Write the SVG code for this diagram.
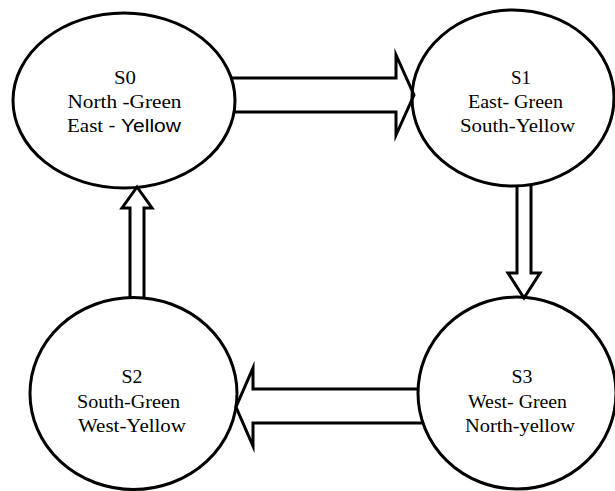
<svg xmlns="http://www.w3.org/2000/svg" width="615" height="491" viewBox="0 0 615 491">
<style>
.st{fill:none;stroke:#000;stroke-width:3}
.ar{fill:none;stroke:#000;stroke-width:3;stroke-linejoin:miter;stroke-miterlimit:10}
text{font-family:"Liberation Serif","Times New Roman",serif;font-size:18px;fill:#000;text-anchor:middle}
.sans{font-family:"Liberation Sans",Arial,sans-serif}
</style>
<rect width="615" height="491" fill="#fff"/>
<g id="connectors">
<path class="ar" d="M231,78 H396 V55 L414,95 L396,135 V112 H234"/>
<path class="ar" d="M517,186 V273 H508 L524,298 L540,273 H531 V186"/>
<path class="ar" d="M419,389 H253 V368 L236,407 L253,446 V423 H423"/>
<path class="ar" d="M130,297 V208 H122 L137,187 L152,208 H144 V297"/>
</g>
<g id="S0">
<ellipse class="st" cx="124" cy="100.5" rx="111" ry="87.5"/>
<text x="125" y="84" textLength="22" lengthAdjust="spacingAndGlyphs">S0</text>
<text x="124.5" y="108" textLength="114" lengthAdjust="spacingAndGlyphs">North -Green</text>
<text x="124" y="132" textLength="114" lengthAdjust="spacingAndGlyphs">East <tspan class="sans">- Yellow</tspan></text>
</g>
<g id="S1">
<ellipse class="st" cx="513" cy="98" rx="101" ry="88"/>
<text x="521" y="84" textLength="20" lengthAdjust="spacingAndGlyphs">S1</text>
<text x="515.5" y="108" textLength="95" lengthAdjust="spacingAndGlyphs">East- Green</text>
<text x="517.5" y="132" textLength="115" lengthAdjust="spacingAndGlyphs">South-Yellow</text>
</g>
<g id="S2">
<ellipse class="st" cx="133.5" cy="393.5" rx="103.5" ry="96"/>
<text x="132" y="383" textLength="21" lengthAdjust="spacingAndGlyphs">S2</text>
<text x="128.5" y="408" textLength="103" lengthAdjust="spacingAndGlyphs">South-Green</text>
<text x="132" y="432" textLength="108" lengthAdjust="spacingAndGlyphs">West-Yellow</text>
</g>
<g id="S3">
<ellipse class="st" cx="517" cy="393" rx="99" ry="96"/>
<text x="522" y="383" textLength="21" lengthAdjust="spacingAndGlyphs">S3</text>
<text x="517.5" y="408" textLength="99" lengthAdjust="spacingAndGlyphs">West- Green</text>
<text x="520" y="432" textLength="110" lengthAdjust="spacingAndGlyphs">North-yellow</text>
</g>
</svg>
